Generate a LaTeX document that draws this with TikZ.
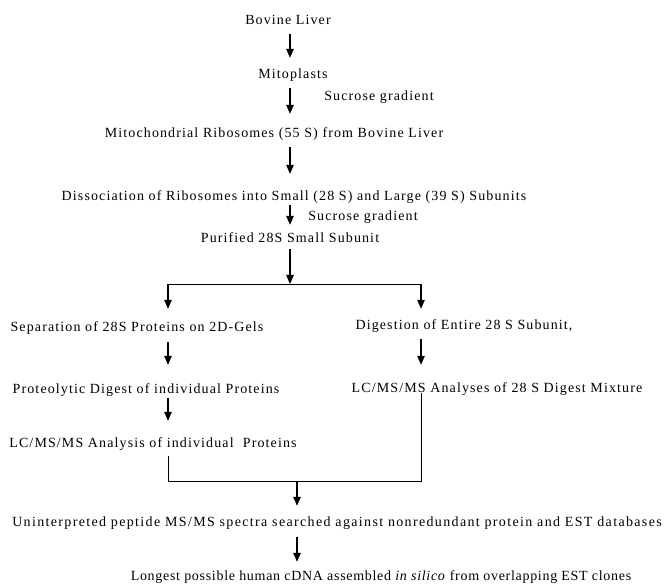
\documentclass[tikz,border=0pt]{standalone}
\usepackage{fontspec}
\setmainfont{Liberation Serif}[LetterSpace=8]
\usetikzlibrary{arrows.meta,calc,positioning}
\tikzset{
	flow chart/.style={
		x=1pt, y=-1pt,
		font=\fontsize{14}{16}\selectfont,
		txt/.style={inner sep=0pt, text height=10pt, text depth=0pt},
		spaced/.style={font={\fontsize{14}{16}\selectfont\addfontfeature{LetterSpace=##1}}},
		ar/.style={draw, line width=1.3pt, -{Triangle[width=7.5pt,length=9pt]},
			shorten <=9pt, shorten >=12pt},
		ln/.style={draw, line width=0.9pt}
		}
}

\begin{document}
\begin{tikzpicture}[flow chart]
	\useasboundingbox (0,0) rectangle (665,585);
	\node[txt] (bov)  at (288,20)  {Bovine Liver};
	\node[txt] (mito) at (293,74)  {Mitoplasts};
	\node[txt] (suc1) at (379,96)  {Sucrose gradient};
	\node[txt] (ribo) at (274,133) {Mitochondrial Ribosomes (55 S) from Bovine Liver};
	\node[txt] (diss) at (294,196) {Dissociation of Ribosomes into Small (28 S) and Large (39 S) Subunits};
	\node[txt] (suc2) at (363,216) {Sucrose gradient};
	\node[txt] (puri) at (290,238) {Purified 28S Small Subunit};
	\node[txt] (sep)  at (137,327) {Separation of 28S Proteins on 2D-Gels};
	\node[txt] (dig)  at (464,325) {Digestion of Entire 28 S Subunit,};
	\node[txt] (prot) at (146,389) {Proteolytic Digest of individual Proteins};
	\node[txt] (lcms) at (497,388) {LC/MS/MS Analyses of 28 S Digest Mixture};
	\node[txt] (anal) at (153,443) {LC/MS/MS Analysis of individual\ \ Proteins};
	\node[txt,spaced=9.6] (unint) at (337,522) {Uninterpreted peptide MS/MS spectra searched against nonredundant protein and EST databases};
	\node[txt,spaced=5] (long) at (381,576) {Longest possible human cDNA assembled \textit{in silico} from overlapping EST clones};
	% columns of the arrows
	\coordinate (col)   at (290,0);
	\coordinate (fork)  at (290,284);
	\coordinate (forkL) at (168,284);
	\coordinate (forkR) at (421,284);
	\coordinate (joinL) at (168,481);
	\coordinate (joinR) at (421,481);
	\coordinate (join)  at (297,481);
	\draw[ar,shorten >=11pt] (bov.south -| col) -- (mito.north -| col);
	\draw[ar,shorten >=14pt] (mito.south -| col) -- (ribo.north -| col);
	\draw[ar,shorten >=17pt] (ribo.south -| col) -- (diss.north -| col);
	\draw[ar,shorten <=4pt,shorten >=8pt] (diss.south -| col) -- (puri.north -| col);
	\draw[ar,shorten <=6pt,shorten >=0pt] (puri.south -| fork) -- (fork);
	\draw[ln] (forkL) -- (forkR);
	\draw[ar,shorten <=0pt,shorten >=13pt] (forkL) -- (sep.north -| forkL);
	\draw[ar,shorten <=0pt,shorten >=11pt] (forkR) -- (dig.north -| forkR);
	\draw[ar,shorten <=10pt,shorten >=19pt] (sep.south -| forkL) -- (prot.north -| forkL);
	\draw[ar,shorten >=18pt] (dig.south -| forkR) -- (lcms.north -| forkR);
	\draw[ar,shorten <=4pt,shorten >=17pt] (prot.south -| forkL) -- (anal.north -| forkL);
	\draw[ln,shorten <=8pt] (anal.south -| joinL) -- (joinL) -- (joinR) -- (lcms.south -| joinR);
	\draw[ar,shorten <=0pt,shorten >=11pt] (join) -- (unint.north -| join);
	\draw[ar,shorten <=10pt,shorten >=9pt] (unint.south -| join) -- (long.north -| join);
\end{tikzpicture}
\end{document}
